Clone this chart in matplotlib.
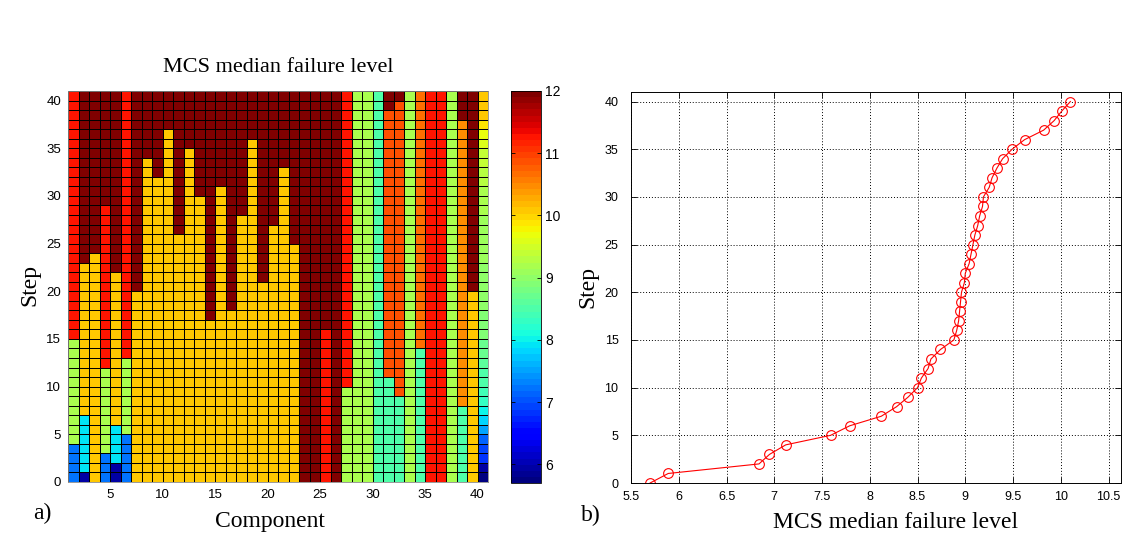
import numpy as np
import matplotlib
matplotlib.use('Agg')
import matplotlib.pyplot as plt
from matplotlib.colors import Normalize
from matplotlib.cm import ScalarMappable

# niveles de falla (colores del mapa)
DR = 12.0    # rojo oscuro
R = 11.25    # rojo
OR = 10.9    # rojo anaranjado
O34 = 10.7   # naranja (comp. 34)
O = 10.5     # naranja (comp. 38)
A = 10.1     # ambar
LG = 9.15    # verde claro
AQ = 8.5     # aguamarina
C = 7.9      # cian
B = 7.25     # azul
DB = 5.95    # azul oscuro

# tramos (valor, numero de pasos) desde step 0 hacia arriba, componentes 1..39
component_runs = [
    [(B, 4), (LG, 11), (R, 26)],
    [(DB, 1), (C, 6), (A, 16), (DR, 18)],
    [(A, 24), (DR, 17)],
    [(B, 3), (LG, 9), (R, 17), (DR, 12)],
    [(DB, 2), (C, 4), (A, 16), (DR, 19)],
    [(B, 5), (LG, 8), (R, 28)],
    [(A, 20), (DR, 21)],
    [(A, 34), (DR, 7)],
    [(A, 32), (DR, 9)],
    [(A, 37), (DR, 4)],
    [(A, 26), (DR, 15)],
    [(A, 35), (DR, 6)],
    [(A, 30), (DR, 11)],
    [(A, 17), (DR, 24)],
    [(A, 31), (DR, 10)],
    [(A, 18), (DR, 23)],
    [(A, 28), (DR, 13)],
    [(A, 36), (DR, 5)],
    [(A, 21), (DR, 20)],
    [(A, 27), (DR, 14)],
    [(A, 33), (DR, 8)],
    [(A, 25), (DR, 16)],
    [(DR, 41)],
    [(DR, 41)],
    [(R, 16), (DR, 25)],
    [(DR, 41)],
    [(LG, 10), (R, 31)],
    [(LG, 41)],
    [(LG, 41)],
    [(AQ, 41)],
    [(AQ, 11), (OR, 28), (DR, 2)],
    [(AQ, 9), (OR, 31), (DR, 1)],
    [(LG, 41)],
    [(AQ, 14), (O34, 27)],
    [(R, 41)],
    [(R, 41)],
    [(LG, 41)],
    [(AQ, 8), (O, 30), (DR, 3)],
    [(A, 20), (DR, 21)],
]

# componente 40 (gradiente), step 0..40
component40 = [5.72, 5.9, 6.85, 6.97, 7.15, 7.55, 7.78, 8.0, 8.3, 8.4,
               8.48, 8.54, 8.62, 8.66, 8.75, 8.88, 8.92, 8.94, 8.95, 8.96,
               8.98, 9.0, 9.02, 9.05, 9.07, 9.09, 9.11, 9.14, 9.16, 9.19,
               9.21, 9.25, 9.3, 9.35, 9.42, 9.55, 9.7, 9.9, 10.05, 10.1, 10.1]

# curva b): nivel mediano de falla por step
steps = list(range(41))
median_level = [5.70, 5.89, 6.84, 6.95, 7.12, 7.59, 7.79, 8.12, 8.28, 8.40,
                8.50, 8.54, 8.61, 8.64, 8.74, 8.88, 8.91, 8.93, 8.94, 8.95,
                8.96, 8.99, 9.00, 9.04, 9.06, 9.08, 9.10, 9.13, 9.15, 9.18,
                9.19, 9.25, 9.28, 9.33, 9.39, 9.49, 9.62, 9.82, 9.93, 10.01,
                10.10]

# matriz step x componente
cols = []
for runs in component_runs:
    col = []
    for val, n in runs:
        col += [val] * n
    cols.append(col)
cols.append(component40)
Z = np.array(cols).T

serif = 'Liberation Serif'
sans = 'Liberation Sans'
cmap = plt.get_cmap('jet', 64)
norm = Normalize(vmin=5.7, vmax=12)

fig = plt.figure(figsize=(11.31, 5.39), dpi=100)

# a) mapa de colores
ax1 = fig.add_axes([68 / 1131, 57 / 539, 420 / 1131, 391 / 539])
ax1.pcolormesh(np.arange(1, 42), np.arange(0, 42), Z, cmap=cmap, norm=norm,
               edgecolors='k', linewidth=0.6)
ax1.set_xlim(1, 41)
ax1.set_ylim(0, 41)
ax1.set_xticks(range(5, 41, 5))
ax1.set_yticks(range(0, 41, 5))
ax1.tick_params(direction='in', length=0, pad=5, labelsize=9.5)
for lb in ax1.get_xticklabels() + ax1.get_yticklabels():
    lb.set_fontfamily(sans)
for s in ax1.spines.values():
    s.set_linewidth(0.6)
    s.set_color('#888888')

cax = fig.add_axes([511 / 1131, 56 / 539, 30 / 1131, 392 / 539])
cb = fig.colorbar(ScalarMappable(norm=norm, cmap=cmap), cax=cax)
cb.set_ticks(range(6, 13))
cb.outline.set_linewidth(0.6)
cax.tick_params(direction='in', length=3, width=0.6, left=True, right=True,
                labelsize=10, pad=3)
for lb in cax.get_yticklabels():
    lb.set_fontfamily(sans)

fig.text(278 / 1131, 1 - 68 / 539, 'MCS median failure level', family=serif,
         fontsize=16, ha='center', va='center')
fig.text(30 / 1131, 1 - 285 / 539, 'Step', family=serif, fontsize=17,
         rotation=90, ha='center', va='center')
fig.text(270 / 1131, 1 - 521 / 539, 'Component', family=serif, fontsize=17,
         ha='center', va='center')
fig.text(42 / 1131, 1 - 513 / 539, 'a)', family=serif, fontsize=17,
         ha='center', va='center')

# b) curva
ax2 = fig.add_axes([631 / 1131, 56 / 539, 490 / 1131, 391 / 539])
ax2.plot(median_level, steps, '-o', color='red', lw=0.8, ms=7,
         mfc='none', mec='red', mew=0.8)
ax2.set_xlim(5.5, 10.63)
ax2.set_ylim(0, 41)
ax2.set_xticks(np.arange(5.5, 10.51, 0.5))
ax2.set_xticklabels(['%g' % v for v in np.arange(5.5, 10.51, 0.5)])
ax2.set_yticks(range(0, 41, 5))
ax2.grid(True, linestyle=(0, (1, 2)), color='k', linewidth=0.7)
ax2.tick_params(direction='in', length=4, width=0.6, top=True, right=True,
                labelsize=9)
ax2.tick_params(axis='y', pad=9)
ax2.tick_params(axis='x', pad=6)
for lb in ax2.get_xticklabels() + ax2.get_yticklabels():
    lb.set_fontfamily(sans)
for s in ax2.spines.values():
    s.set_linewidth(0.7)

fig.text(588 / 1131, 1 - 287 / 539, 'Step', family=serif, fontsize=17,
         rotation=90, ha='center', va='center')
fig.text(896 / 1131, 1 - 523 / 539, 'MCS median failure level', family=serif,
         fontsize=17, ha='center', va='center')
fig.text(591 / 1131, 1 - 515 / 539, 'b)', family=serif, fontsize=17,
         ha='center', va='center')

fig.savefig('out.png', dpi=100)
